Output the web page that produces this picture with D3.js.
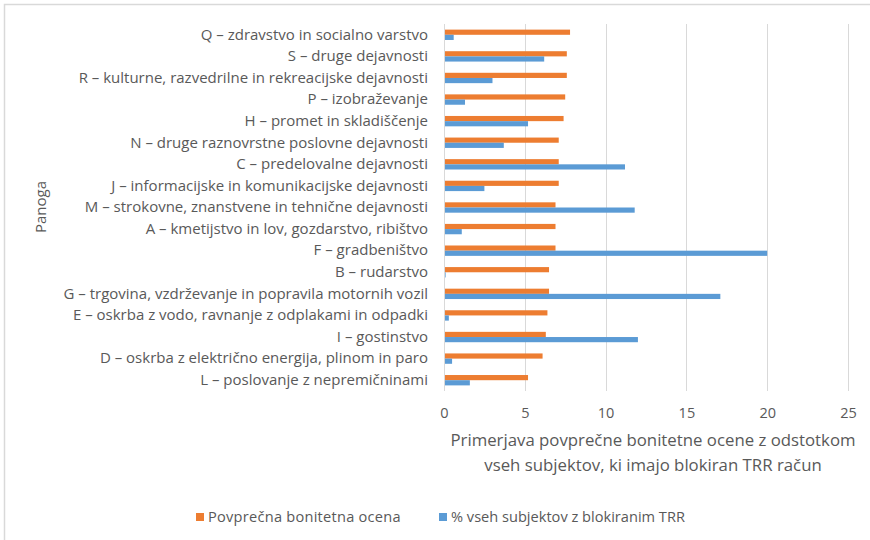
<!DOCTYPE html>
<html>
<head>
<meta charset="utf-8">
<script src="https://cdn.jsdelivr.net/npm/d3@7"></script>
<style>
  html, body { margin: 0; padding: 0; background: #fff; }
  svg { display: block; }
  text { font-family: "Open Sans", "Noto Sans", sans-serif; fill: #595959; }
</style>
</head>
<body>
<svg id="chart" width="870" height="540"></svg>
<script>
// Industry sectors (top to bottom)
const categories = [
  "Q – zdravstvo in socialno varstvo",
  "S – druge dejavnosti",
  "R – kulturne, razvedrilne in rekreacijske dejavnosti",
  "P – izobraževanje",
  "H – promet in skladiščenje",
  "N – druge raznovrstne poslovne dejavnosti",
  "C – predelovalne dejavnosti",
  "J – informacijske in komunikacijske dejavnosti",
  "M – strokovne, znanstvene in tehnične dejavnosti",
  "A – kmetijstvo in lov, gozdarstvo, ribištvo",
  "F – gradbeništvo",
  "B – rudarstvo",
  "G – trgovina, vzdrževanje in popravila motornih vozil",
  "E – oskrba z vodo, ravnanje z odplakami in odpadki",
  "I – gostinstvo",
  "D – oskrba z električno energija, plinom in paro",
  "L – poslovanje z nepremičninami"
];

// Average credit rating per sector
const avgRating = [7.8, 7.6, 7.6, 7.5, 7.4, 7.1, 7.1, 7.1, 6.9, 6.9, 6.9, 6.5, 6.5, 6.4, 6.3, 6.1, 5.2];

// Share of all entities with a blocked transaction account (%)
const blockedShare = [0.6, 6.2, 3.0, 1.3, 5.2, 3.7, 11.2, 2.5, 11.8, 1.1, 20.0, 0.1, 17.1, 0.3, 12.0, 0.5, 1.6];

const seriesNames = ["Povprečna bonitetna ocena", "% vseh subjektov z blokiranim TRR"];
const seriesColors = ["#ED7D31", "#5B9BD5"];
const xTicks = [0, 5, 10, 15, 20, 25];
const xTitleLines = [
  "Primerjava povprečne bonitetne ocene z odstotkom",
  "vseh subjektov, ki imajo blokiran TRR račun"
];
const yTitle = "Panoga";

const svg = d3.select("#chart");

// Outer chart frame
svg.append("rect")
  .attr("x", 4.5).attr("y", 4.5)
  .attr("width", 880).attr("height", 560)
  .attr("fill", "none").attr("stroke", "#d9d9d9").attr("stroke-width", 1.5);

const plot = { left: 444, right: 848, top: 24, bottom: 391 };

const x = d3.scaleLinear().domain([0, 25]).range([plot.left, plot.right]);
const y = d3.scaleBand().domain(categories)
  .range([plot.top, plot.bottom])
  .paddingInner(0.52).paddingOuter(0.26);
const ySub = d3.scaleBand().domain(seriesNames).range([0, y.bandwidth()]);

// Vertical gridlines
svg.append("g")
  .selectAll("line")
  .data(xTicks.slice(1))
  .join("line")
  .attr("x1", d => Math.round(x(d)) + 0.5).attr("x2", d => Math.round(x(d)) + 0.5)
  .attr("y1", plot.top).attr("y2", plot.bottom)
  .attr("stroke", "#d9d9d9").attr("stroke-width", 1);

// Bars
const rows = categories.map((c, i) => ({ cat: c, vals: [avgRating[i], blockedShare[i]] }));
const groups = svg.append("g")
  .selectAll("g")
  .data(rows)
  .join("g")
  .attr("transform", d => `translate(0,${y(d.cat)})`);

groups.selectAll("rect")
  .data(d => d.vals.map((v, k) => ({ v, k })))
  .join("rect")
  .attr("x", x(0))
  .attr("y", d => ySub(seriesNames[d.k]))
  .attr("width", d => x(d.v) - x(0))
  .attr("height", ySub.bandwidth())
  .attr("fill", d => seriesColors[d.k]);

// Category axis line
svg.append("line")
  .attr("x1", plot.left + 0.5).attr("x2", plot.left + 0.5)
  .attr("y1", plot.top).attr("y2", plot.bottom)
  .attr("stroke", "#d9d9d9").attr("stroke-width", 1);

// Category axis labels
const yAxis = d3.axisLeft(y).tickSize(0).tickPadding(16);
const yG = svg.append("g").attr("transform", `translate(${plot.left},0)`).call(yAxis);
yG.select(".domain").remove();
yG.selectAll("text")
  .style("font-family", "'Open Sans', sans-serif")
  .style("font-size", "15px")
  .attr("fill", "#595959");

// Value axis labels
const xAxis = d3.axisBottom(x).tickValues(xTicks).tickSize(0).tickPadding(0).tickFormat(d3.format("d"));
const xG = svg.append("g").attr("transform", `translate(0,${plot.bottom})`).call(xAxis);
xG.select(".domain").remove();
xG.selectAll("text")
  .attr("y", 27).attr("dy", null)
  .style("font-family", "'Open Sans', sans-serif")
  .style("font-size", "14.5px")
  .attr("fill", "#595959");

// Value axis title
svg.append("g")
  .selectAll("text")
  .data(xTitleLines)
  .join("text")
  .attr("x", 653)
  .attr("y", (d, i) => 446 + i * 25)
  .attr("text-anchor", "middle")
  .style("font-size", "16.8px")
  .text(d => d);

// Category axis title
svg.append("text")
  .attr("transform", "translate(46,207) rotate(-90)")
  .attr("text-anchor", "middle")
  .style("font-size", "15px")
  .text(yTitle);

// Legend
const legendX = [196, 439];
const legend = svg.append("g")
  .selectAll("g")
  .data(seriesNames)
  .join("g")
  .attr("transform", (d, i) => `translate(${legendX[i]},513)`);
legend.append("rect")
  .attr("width", 8).attr("height", 8)
  .attr("fill", (d, i) => seriesColors[i]);
legend.append("text")
  .attr("x", 12).attr("y", 8.5)
  .style("font-size", "14.6px")
  .style("letter-spacing", (d, i) => i === 0 ? "0.25px" : null)
  .text(d => d);
</script>
</body>
</html>
